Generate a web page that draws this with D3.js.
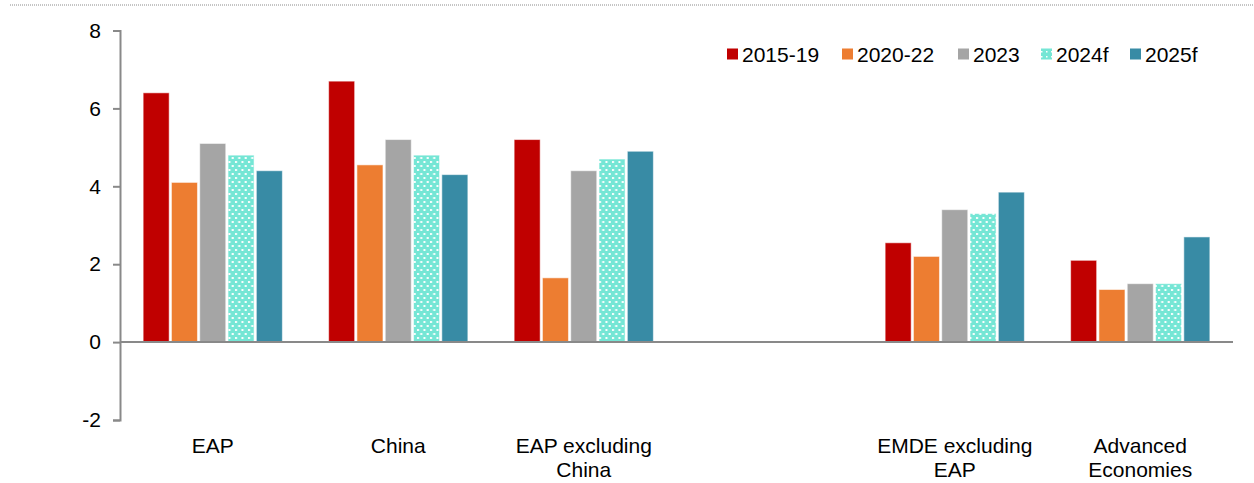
<!DOCTYPE html>
<html>
<head>
<meta charset="utf-8">
<script src="https://cdn.jsdelivr.net/npm/d3@7"></script>
<style>
  html, body { margin: 0; padding: 0; background: #fff; }
  svg { display: block; }
  text { font-family: "Liberation Sans", Arial, sans-serif; fill: #000; }
</style>
</head>
<body>
<svg id="chart" width="1254" height="483"></svg>
<script>
// Regions (one empty slot separates the EAP groups from the comparators)
const categories = ["EAP", "China", "EAP excluding China", "", "EMDE excluding EAP", "Advanced Economies"];
const categoryLines = [["EAP"], ["China"], ["EAP excluding", "China"], [], ["EMDE excluding", "EAP"], ["Advanced", "Economies"]];

// Growth, percent
const seriesNames = ["2015-19", "2020-22", "2023", "2024f", "2025f"];
const v2015_19 = [6.4, 6.7, 5.2, null, 2.55, 2.1];
const v2020_22 = [4.1, 4.55, 1.65, null, 2.2, 1.35];
const v2023    = [5.1, 5.2, 4.4, null, 3.4, 1.5];
const v2024f   = [4.8, 4.8, 4.7, null, 3.3, 1.5];
const v2025f   = [4.4, 4.3, 4.9, null, 3.85, 2.7];
const seriesValues = [v2015_19, v2020_22, v2023, v2024f, v2025f];

const yTicks = [-2, 0, 2, 4, 6, 8];

const colors = ["#C00000", "#ED7D31", "#A5A5A5", "url(#dots)", "#388BA5"];
const legendFill = ["#C00000", "#ED7D31", "#A5A5A5", "url(#dotsSmall)", "#388BA5"];

const svg = d3.select("#chart");

// Dotted fill for the 2024f forecast bars
const defs = svg.append("defs");
const pat = defs.append("pattern").attr("id", "dots")
  .attr("patternUnits", "userSpaceOnUse").attr("width", 6.5).attr("height", 8);
pat.append("rect").attr("width", 6.5).attr("height", 8).attr("fill", "#75E6D5");
pat.append("rect").attr("x", 1).attr("y", 1).attr("width", 2).attr("height", 2).attr("fill", "#fff");
pat.append("rect").attr("x", 4.25).attr("y", 5).attr("width", 2).attr("height", 2).attr("fill", "#fff");
const pat2 = defs.append("pattern").attr("id", "dotsSmall")
  .attr("patternUnits", "userSpaceOnUse").attr("width", 5).attr("height", 5);
pat2.append("rect").attr("width", 5).attr("height", 5).attr("fill", "#75E6D5");
pat2.append("rect").attr("x", 1).attr("y", 1).attr("width", 1.5).attr("height", 1.5).attr("fill", "#fff");

// Dotted rule along the top
svg.append("line")
  .attr("x1", 10).attr("x2", 1254).attr("y1", 5).attr("y2", 5)
  .attr("stroke", "#8a8a8a").attr("stroke-width", 1).attr("stroke-dasharray", "1,1");

const x0 = d3.scaleBand().domain(categories.map((c, i) => i)).range([120, 1233]).paddingInner(0).paddingOuter(0);
const x1 = d3.scaleBand().domain(seriesNames).range([0, x0.bandwidth()]).paddingInner(0.08).paddingOuter(0.8175);
const y = d3.scaleLinear().domain([-2, 8]).range([420, 30.5]);

// Bars
seriesNames.forEach((s, si) => {
  svg.append("g").selectAll("rect")
    .data(seriesValues[si].map((v, ci) => ({ v, ci })).filter(d => d.v !== null))
    .join("rect")
    .attr("x", d => x0(d.ci) + x1(s))
    .attr("width", x1.bandwidth())
    .attr("y", d => y(Math.max(0, d.v)))
    .attr("height", d => Math.abs(y(d.v) - y(0)))
    .attr("fill", colors[si])
    .attr("stroke", "#ffffff").attr("stroke-opacity", 0.55).attr("stroke-width", 1);
});

// Y axis
const yAxis = d3.axisLeft(y).tickValues(yTicks).tickSize(7).tickPadding(12).tickFormat(d => String(d));
const yg = svg.append("g").attr("transform", "translate(120,0)").call(yAxis);
yg.select(".domain").attr("stroke", "#898989").attr("stroke-width", 2);
yg.selectAll(".tick line").attr("stroke", "#898989").attr("stroke-width", 2);
yg.selectAll(".tick text").style("font-size", "21px").style("font-family", "'Liberation Sans', Arial, sans-serif").attr("fill", "#000");

// Zero line
svg.append("line")
  .attr("x1", 120).attr("x2", 1233).attr("y1", y(0)).attr("y2", y(0))
  .attr("stroke", "#898989").attr("stroke-width", 2);

// Category labels
const lab = svg.append("g").selectAll("text")
  .data(categoryLines.map((lines, i) => ({ lines, i })))
  .join("text")
  .attr("text-anchor", "middle")
  .style("font-size", "21px");
lab.each(function(d) {
  const t = d3.select(this);
  d.lines.forEach((ln, k) => {
    t.append("tspan")
      .attr("x", x0(d.i) + x0.bandwidth() / 2)
      .attr("y", 453 + k * 24)
      .text(ln);
  });
});

// Legend
const legendX = [727, 842, 958, 1041, 1130];
const lg = svg.append("g");
seriesNames.forEach((s, i) => {
  lg.append("rect").attr("x", legendX[i]).attr("y", 48.5).attr("width", 11).attr("height", 11)
    .attr("fill", legendFill[i]);
  lg.append("text").attr("x", legendX[i] + 15).attr("y", 61.5)
    .style("font-size", "21px").text(s);
});
</script>
</body>
</html>
